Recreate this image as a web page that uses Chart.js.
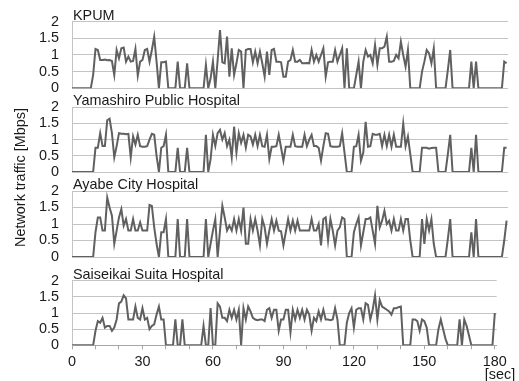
<!DOCTYPE html>
<html lang="en">
<head>
    <meta charset="UTF-8">
    <title>Network traffic</title>
    <script src="https://cdn.jsdelivr.net/npm/chart.js"></script>
    <style>
        body { margin: 0; background: #fff; }
        #wrap { position: relative; width: 519px; height: 381px; }
        #wrap canvas { position: absolute; left: 0; top: 0; }
    </style>
</head>
<body>
<div id="wrap">
    <canvas id="c1" width="519" height="381"></canvas>
    <canvas id="c2" width="519" height="381"></canvas>
    <canvas id="c3" width="519" height="381"></canvas>
    <canvas id="c4" width="519" height="381"></canvas>
</div>
<script>
// time in seconds, one sample per second
const seconds = Array.from({ length: 186 }, (_, i) => i);
const xTicks = [0, 10, 20, 30, 40, 50, 60, 70, 80, 90, 100, 110, 120, 130, 140, 150, 160, 170, 180];

const sites = ['KPUM', 'Yamashiro Public Hospital', 'Ayabe City Hospital', 'Saiseikai Suita Hospital'];

// Mbps
const kpum = [
    0, 0, 0, 0, 0, 0, 0, 0, 0, 0.4,
    1.18, 1.15, 0.85, 0.85, 0.86, 0.84, 0.85, 0.82, 0.4, 1.15,
    0.9, 1.2, 1.22, 0.8, 0.95, 0.8, 0.82, 1.18, 0.38, 0.8,
    0.85, 1.15, 1.18, 0.8, 1.15, 1.55, 0.8, 0, 0.78, 0.78,
    0.8, 0, 0, 0, 0, 0.8, 0, 0, 0, 0.75,
    0, 0, 0, 0, 0, 0, 0, 0.7, 0, 0.3,
    0.8, 0, 0.85, 1.75, 0.78, 0.75, 1.55, 0.35, 1.2, 0.4,
    0.75, 1.15, 1.1, 0, 1.15, 1.18, 1.18, 0.78, 1.1, 0.75,
    1.1, 0.75, 0.35, 1.1, 0.4, 1.15, 1.18, 0.8, 0.8, 0.78,
    0.35, 0.35, 0.8, 0.85, 1.15, 0.8, 0.8, 0.85, 0.75, 0.75,
    0.76, 0.75, 1.15, 0.8, 1.0, 0.8, 1.0, 1.2, 0.35, 0.78,
    0.8, 0.8, 1.15, 0.8, 1.0, 1.2, 0, 1.2, 0, 0,
    0, 0.4, 0.8, 0, 0.8, 1.15, 0.95, 1.0, 0.75, 1.3,
    0.7, 1.2, 1.2, 1.25, 1.55, 0.8, 0.8, 0.82, 1.0, 0.9,
    1.4, 1.0, 0.65, 1.15, 0, 0, 0, 0, 0, 0.5,
    0.8, 1.15, 1.05, 0.75, 1.2, 0, 0, 0, 0, 0,
    0.55, 1.15, 0, 0, 0, 0, 0, 0, 0, 0,
    0.8, 0, 0.8, 0, 0, 0, 0, 0, 0, 0,
    0, 0, 0, 0, 0.8, 0.75
];

const yamashiro = [
    0, 0, 0, 0, 0, 0, 0, 0, 0, 0,
    0.75, 0.75, 1.2, 0.8, 0.8, 1.6, 1.65, 1.2, 0.45, 0.8,
    1.2, 1.18, 1.18, 1.17, 1.18, 0.45, 1.1, 0.85, 1.15, 0.8,
    0.78, 0.78, 0.8, 1.0, 1.18, 1.15, 0.5, 0, 0.75, 0.8,
    1.15, 0, 0, 0, 0, 0.75, 0, 0, 0, 0.75,
    0, 0, 0, 0, 0, 0, 0, 1.15, 0, 0.4,
    1.15, 0.8, 1.2, 1.3, 1.0, 1.2, 0.8, 1.0, 0.45, 1.4,
    0.6, 1.2, 0.9, 1.15, 0.75, 1.15, 1.1, 0.85, 1.15, 0.8,
    1.15, 0.8, 0.78, 1.15, 0.4, 0.78, 0.78, 0.8, 1.15, 0.75,
    0.35, 0.78, 0.78, 0.78, 1.15, 0.8, 0.78, 0.78, 0.78, 1.15,
    0.8, 1.0, 1.15, 0.8, 0.8, 0.75, 0.35, 0.8, 1.2, 1.18,
    0.8, 0.78, 0.78, 0.78, 0.8, 1.2, 0.6, 0, 0, 0,
    0.78, 0.8, 1.15, 0.35, 0.6, 1.55, 0.78, 0.8, 1.18, 1.15,
    1.15, 1.18, 0.8, 1.15, 0.8, 1.15, 0.78, 1.15, 0.78, 0.78,
    0.78, 1.5, 0.8, 1.1, 0.55, 0, 0, 0, 0, 0.75,
    0.75, 0.75, 0.72, 0.74, 0.75, 0.75, 0, 0, 0, 0,
    0.55, 1.15, 0, 0, 0, 0, 0, 0, 0, 0,
    0.75, 0, 1.15, 0, 0, 0, 0, 0, 0, 0,
    0, 0, 0, 0, 0.75, 0.75
];

const ayabe = [
    0, 0, 0, 0, 0, 0, 0, 0, 0, 0,
    0.75, 1.2, 1.2, 0.8, 0.8, 1.8, 1.5, 1.25, 0.4, 0.8,
    1.2, 1.45, 0.95, 1.15, 0.8, 0.8, 1.15, 0.8, 0.8, 1.05,
    0.8, 0.8, 0.8, 1.58, 1.55, 0.9, 0.4, 0, 0.75, 0.75,
    1.15, 0, 0, 0, 0, 1.15, 0, 0, 0, 1.15,
    0, 0, 0, 0, 0, 0, 0, 1.15, 0, 0.4,
    0.8, 1.15, 0, 0.8, 1.55, 1.2, 0.8, 0.95, 0.8, 1.15,
    0.8, 1.15, 0.8, 1.5, 0.4, 0.4, 1.15, 0.8, 1.15, 0.8,
    0.35, 1.15, 0.9, 0.4, 0.8, 1.15, 0.8, 1.1, 0.8, 0.78,
    0.35, 0.75, 1.15, 0.8, 1.1, 0.8, 1.1, 0.8, 0.8, 0.8,
    0.8, 0.8, 1.15, 0.8, 0.8, 1.0, 0.35, 1.15, 1.2, 0.5,
    1.15, 0.8, 0.35, 0.8, 0.9, 1.2, 1.15, 0, 0, 0,
    0.75, 1.0, 1.2, 0.35, 0.75, 1.15, 1.15, 1.2, 0.8, 0.4,
    1.55, 0.9, 1.1, 1.4, 1.0, 1.1, 0.8, 1.15, 0.8, 0.8,
    1.15, 0.8, 1.15, 1.15, 0.5, 0, 0, 0, 0, 1.15,
    0.4, 1.15, 0.8, 1.15, 0.4, 0, 0, 0, 0, 0,
    0.55, 1.15, 0, 0, 0, 0, 0, 0, 0, 0,
    0.75, 0, 1.15, 0, 0, 0, 0, 0, 0, 0,
    0, 0, 0, 0, 0.5, 1.1
];

const saiseikai = [
    0, 0, 0, 0, 0, 0, 0, 0, 0, 0,
    0.45, 0.75, 0.7, 0.85, 0.55, 0.6, 0.6, 0.45, 0.55, 0.8,
    1.3, 1.35, 1.55, 1.45, 0.8, 0.8, 0.8, 1.2, 0.85, 0.8,
    1.15, 0.8, 0.85, 0.5, 0.6, 0.65, 0.95, 1.2, 0.8, 0.8,
    0, 0, 0, 0, 0.8, 0, 0, 0.8, 0, 0,
    0, 0, 0, 0, 0, 0, 0.6, 0, 0, 1.15,
    0, 0, 1.3, 1.2, 0.85, 0.85, 0.75, 1.1, 0.85, 1.1,
    0.8, 1.1, 0, 1.15, 0.8, 1.2, 1.05, 0.85, 0.8, 0.78,
    0.8, 0.8, 0.75, 1.1, 1.15, 0.85, 1.1, 1.1, 0.45, 0.8,
    0.8, 1.1, 1.1, 0.4, 1.1, 0.8, 1.1, 0.85, 1.1, 0.8,
    1.1, 0.95, 0.45, 0.85, 0.75, 1.05, 0.8, 1.1, 0.8, 0.8,
    0.78, 0.8, 1.15, 0.8, 0, 0, 0, 0.7, 1.0, 1.15,
    0.55, 1.1, 1.15, 1.15, 0.8, 1.3, 1.25, 0.8, 1.1, 1.55,
    0.8, 1.4, 1.2, 1.15, 1.1, 1.05, 0.95, 1.15, 1.15, 1.18,
    1.2, 0, 0, 0, 0, 0.8, 0.8, 0.75, 0.45, 0.8,
    0.75, 0.55, 0, 0, 0, 0, 0.5, 0.8, 0.5, 0.2,
    0, 0, 0, 0, 0, 0.8, 0, 0.8, 0.6, 0.3,
    0, 0, 0, 0, 0, 0, 0, 0, 0, 0,
    1.0
];

const FONT = '"Liberation Sans", Arial, sans-serif';
const TEXT = '#1a1a1a';

const panelText = {
    id: 'panelText',
    afterDraw(chart, args, opts) {
        const ctx = chart.ctx;
        const area = chart.chartArea;
        ctx.save();
        ctx.font = '14.4px ' + FONT;
        ctx.fillStyle = TEXT;
        ctx.textAlign = 'left';
        ctx.textBaseline = 'alphabetic';
        ctx.fillText(opts.title, area.left + 1, area.top - 2);
        if (opts.bottom) {
            ctx.textAlign = 'center';
            ctx.fillText('[sec]', 500, 379);
            ctx.translate(21, 177.5);
            ctx.rotate(-Math.PI / 2);
            ctx.textBaseline = 'middle';
            ctx.fillText('Network traffic [Mbps]', 0, 0);
        }
        ctx.restore();
    }
};

function panel(id, title, values, top, bottom, right, xmax, isBottom) {
    const n = values.length;
    const xScale = {
        type: 'linear',
        min: 0,
        max: xmax,
        display: isBottom,
        ticks: {
            autoSkip: false,
            maxRotation: 0,
            padding: 4,
            color: TEXT,
            font: { family: FONT, size: 14.4 },
            callback: v => (v % 30 === 0 ? String(v) : '')
        },
        grid: { drawOnChartArea: false, drawTicks: true, tickLength: 4, color: '#a6a6a6' },
        border: { color: '#a6a6a6' }
    };
    if (isBottom) {
        xScale.afterBuildTicks = s => { s.ticks = xTicks.map(v => ({ value: v })); };
        xScale.afterFit = s => { s.height = 381 - bottom; };
    }
    new Chart(document.getElementById(id), {
        type: 'line',
        data: {
            labels: seconds.slice(0, n),
            datasets: [{
                data: values,
                borderColor: '#606060',
                borderWidth: 2,
                pointRadius: 0,
                tension: 0
            }]
        },
        options: {
            responsive: false,
            animation: false,
            devicePixelRatio: 1,
            layout: { padding: { left: 0, top: top, right: right, bottom: isBottom ? 0 : 381 - bottom } },
            plugins: {
                legend: { display: false },
                tooltip: { enabled: false },
                panelText: { title: title, bottom: isBottom }
            },
            scales: {
                x: xScale,
                y: {
                    min: 0,
                    max: 2,
                    afterFit: s => { s.width = 72; },
                    ticks: {
                        stepSize: 0.5,
                        autoSkip: false,
                        padding: 13,
                        color: TEXT,
                        font: { family: FONT, size: 14.4 },
                        callback: v => String(+v)
                    },
                    grid: { color: '#c4c4c4', drawTicks: false },
                    border: { color: '#c4c4c4' }
                }
            }
        },
        plugins: [panelText]
    });
}

panel('c1', sites[0], kpum, 21, 88.3, 11, 185.6, false);
panel('c2', sites[1], yamashiro, 107.3, 172, 11, 185.6, false);
panel('c3', sites[2], ayabe, 191, 257, 11, 185.6, false);
panel('c4', sites[3], saiseikai, 280.7, 345.3, 22.3, 180.8, true);
</script>
</body>
</html>
